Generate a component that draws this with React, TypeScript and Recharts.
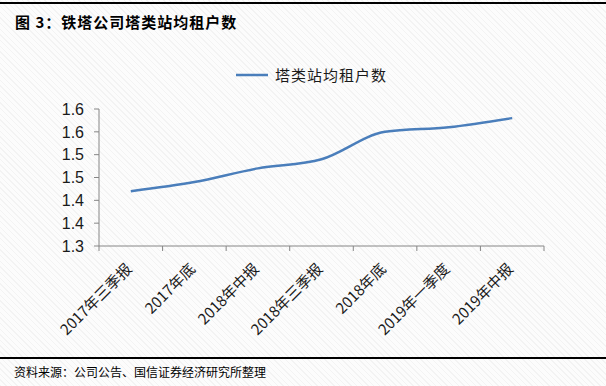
import { Line, LineChart, XAxis, YAxis } from "recharts";

const periods = [
  "2017年三季报",
  "2017年底",
  "2018年中报",
  "2018年三季报",
  "2018年底",
  "2019年一季度",
  "2019年中报",
];
const tenants = [1.42, 1.44, 1.47, 1.49, 1.55, 1.56, 1.58];
const yTicks = [1.3, 1.35, 1.4, 1.45, 1.5, 1.55, 1.6];
const yTickLabels = ["1.3", "1.4", "1.4", "1.5", "1.5", "1.6", "1.6"];

const LINE_COLOR = "#4a7ebb";
const AXIS_COLOR = "#868686";
const CJK = '"Noto Sans CJK SC", "Liberation Sans", sans-serif';

const data = periods.map((name, i) => ({ name, value: tenants[i] }));

// label by the nearest tick value, so hidden ticks never shift the labels
const yLabel = (v: number) => {
  let best = 0;
  yTicks.forEach((t, i) => {
    if (Math.abs(t - v) < Math.abs(yTicks[best] - v)) best = i;
  });
  return yTickLabels[best];
};

// category label rotated -45deg, plus the tick marks on the category boundaries
function CategoryTick(props: any) {
  const { x, y, payload, index, width, visibleTicksCount } = props;
  const half =
    payload && typeof payload.offset === "number" && payload.offset > 0
      ? payload.offset
      : width / visibleTicksCount / 2;
  const top = y - 5;
  const ax = x + 2;
  const ay = top + 24;
  return (
    <g>
      <line x1={x - half} y1={top} x2={x - half} y2={top + 5} stroke={AXIS_COLOR} />
      {index === visibleTicksCount - 1 && (
        <line x1={x + half} y1={top} x2={x + half} y2={top + 5} stroke={AXIS_COLOR} />
      )}
      <text
        x={ax}
        y={ay}
        transform={`rotate(-45, ${ax}, ${ay})`}
        textAnchor="end"
        fontSize={15}
        fill="#1a1a1a"
        fontFamily={CJK}
      >
        {payload.value}
      </text>
    </g>
  );
}

export default function App() {
  return (
    <div
      style={{
        position: "absolute",
        left: 0,
        top: 0,
        width: 606,
        height: 386,
        overflow: "hidden",
        background:
          "repeating-linear-gradient(45deg, #f3f3f3 0px, #f3f3f3 1px, #fcfcfc 1px, #fcfcfc 4px)",
      }}
    >
      <div style={{ position: "absolute", left: 0, top: 2, width: 606, height: 2, background: "#000" }} />
      <div
        style={{
          position: "absolute",
          left: 15,
          top: 12,
          fontSize: 15,
          fontWeight: "bold",
          fontFamily: CJK,
          color: "#000",
          whiteSpace: "nowrap",
          lineHeight: "20px",
          letterSpacing: 1,
        }}
      >
        图 3：铁塔公司塔类站均租户数
      </div>

      <LineChart
        width={606}
        height={386}
        data={data}
        margin={{ top: 109, right: 62, left: 0, bottom: 40 }}
        style={{ position: "absolute", left: 0, top: 0 }}
      >
        <XAxis
          dataKey="name"
          scale="band"
          axisLine={{ stroke: AXIS_COLOR, strokeWidth: 1 }}
          tickLine={false}
          tickSize={5}
          tickMargin={0}
          interval={0}
          height={100}
          tick={<CategoryTick />}
        />
        <YAxis
          domain={[1.3, 1.6]}
          ticks={yTicks}
          interval={0}
          tickFormatter={yLabel}
          width={99}
          tickSize={5}
          tickMargin={10}
          axisLine={{ stroke: AXIS_COLOR, strokeWidth: 1 }}
          tickLine={{ stroke: AXIS_COLOR, strokeWidth: 1 }}
          tick={{ fill: "#1a1a1a", fontSize: 16, fontFamily: '"Liberation Sans", sans-serif' }}
          allowDataOverflow
        />
        <Line
          type="monotone"
          dataKey="value"
          stroke={LINE_COLOR}
          strokeWidth={2.5}
          dot={false}
          isAnimationActive={false}
        />
      </LineChart>

      <svg style={{ position: "absolute", left: 0, top: 0 }} width={606} height={100}>
        <line x1={236} y1={75} x2={268} y2={75} stroke={LINE_COLOR} strokeWidth={2.5} />
      </svg>
      <div
        style={{
          position: "absolute",
          left: 275,
          top: 65,
          fontSize: 15,
          fontFamily: CJK,
          color: "#1a1a1a",
          lineHeight: "20px",
          letterSpacing: 1,
          whiteSpace: "nowrap",
        }}
      >
        塔类站均租户数
      </div>

      <div style={{ position: "absolute", left: 0, top: 357, width: 606, height: 2, background: "#000" }} />
      <div
        style={{
          position: "absolute",
          left: 14,
          top: 364,
          fontSize: 12,
          fontFamily: CJK,
          color: "#000",
          lineHeight: "16px",
          whiteSpace: "nowrap",
        }}
      >
        资料来源：公司公告、国信证券经济研究所整理
      </div>
    </div>
  );
}
